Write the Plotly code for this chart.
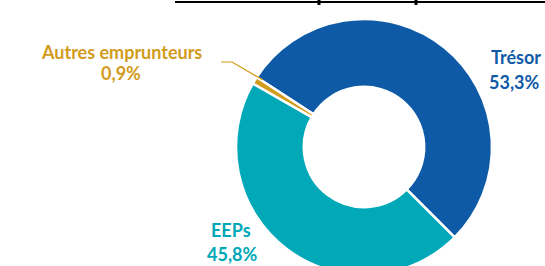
import plotly.graph_objects as go

labels = ["Trésor", "EEPs", "Autres emprunteurs"]
values = [53.3, 45.8, 0.9]
value_text = ["53,3%", "45,8%", "0,9%"]
colors = ["#0F5AA6", "#00A8B8", "#D29B1C"]

W, H = 545, 280

def px(x):
    return x / W

def py(y):
    return (H - y) / H

cx, cy, r = 364, 147, 128

fig = go.Figure()
fig.add_trace(go.Pie(
    labels=labels, values=values, sort=False, direction="clockwise",
    rotation=-57, hole=0.47,
    marker=dict(colors=colors, line=dict(color="white", width=2.5)),
    textinfo="none", hoverinfo="skip", showlegend=False,
    domain=dict(x=[px(cx - r), px(cx + r)], y=[py(cy + r), py(cy - r)]),
))

# (x, y line1, y line2)
label_pos = [((515.5, 57), (514, 82)), ((231, 230), (232.5, 254)), ((121, 52), (121, 73.5))]
font_family = "Lato"
for lab, vt, col, (p1, p2) in zip(labels, value_text, colors, label_pos):
    for txt, (x, y) in ((lab, p1), (vt, p2)):
        fig.add_annotation(
            x=px(x), y=py(y), xref="paper", yref="paper",
            text=f"<b>{txt}</b>", showarrow=False,
            xanchor="center", yanchor="middle", align="center",
            font=dict(family=font_family, size=18, color=col),
        )

# leader line for small slice
fig.add_shape(type="path", xref="paper", yref="paper",
              path=f"M {px(221)} {py(62)} L {px(232)} {py(62)} L {px(263)} {py(80)}",
              line=dict(color=colors[2], width=1.2))

# partial axis line at top
fig.add_shape(type="line", xref="paper", yref="paper",
              x0=px(175), x1=px(545), y0=py(2), y1=py(2),
              line=dict(color="black", width=2))
for tx in [319, 416]:
    fig.add_shape(type="line", xref="paper", yref="paper",
                  x0=px(tx), x1=px(tx), y0=py(0), y1=py(5),
                  line=dict(color="black", width=3))

fig.update_layout(width=W, height=H, margin=dict(l=0, r=0, t=0, b=0),
                  paper_bgcolor="white", plot_bgcolor="white")

fig.write_html("out.html", config={"displayModeBar": False},
               post_script="document.body.style.margin='0';document.body.style.overflow='hidden';document.documentElement.style.overflow='hidden';")
